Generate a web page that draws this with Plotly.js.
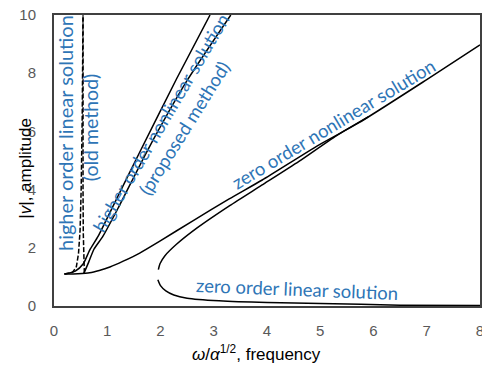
<!DOCTYPE html>
<html>
<head>
<meta charset="utf-8">
<script src="https://cdn.plot.ly/plotly-3.0.1.min.js"></script>
<style>
html,body{margin:0;padding:0;background:#fff;}
#chart{width:482px;height:367px;}
</style>
</head>
<body>
<div id="chart"></div>
<script>
// ---- data ----
// zero order nonlinear solution: upper (stable) branch
const zeroNonUpperX = [0.19, 0.45, 0.67, 0.85, 1.05, 1.3, 1.61, 1.98, 2.6, 3.29, 3.91, 4.97, 5.72, 7.0, 8.0];
const zeroNonUpperY = [1.10, 1.11, 1.14, 1.22, 1.34, 1.54, 1.82, 2.22, 2.92, 3.68, 4.33, 5.53, 6.29, 7.78, 8.97];
// zero order nonlinear solution: middle branch from the turning point
const zeroNonMidX = [1.96, 1.99, 2.08, 2.3, 2.7, 3.3, 3.9, 4.6, 5.3, 5.9];
const zeroNonMidY = [1.25, 1.45, 1.72, 2.12, 2.7, 3.45, 4.15, 4.97, 5.85, 6.5];
// zero order linear solution (lower branch)
const zeroLinX = [1.95, 2.0, 2.1, 2.25, 2.5, 3.1, 4.0, 5.0, 6.5, 8.0];
const zeroLinY = [0.9, 0.7, 0.52, 0.38, 0.27, 0.18, 0.12, 0.09, 0.03, 0.015];
// higher order nonlinear solution (proposed method): two branches
const hiNonAX = [0.2, 0.4, 0.55, 0.67, 0.83, 1.1, 1.63, 2.3, 2.93];
const hiNonAY = [1.1, 1.2, 1.45, 1.92, 2.4, 3.4, 5.36, 7.8, 10];
const hiNonBX = [0.56, 0.65, 0.75, 0.92, 1.2, 1.76, 2.5, 3.32];
const hiNonBY = [1.12, 1.5, 1.95, 2.4, 3.35, 5.36, 7.75, 10];
// higher order linear solution (old method): two dashed branches
const hiLinAX = [0.2, 0.35, 0.42, 0.46, 0.49, 0.51, 0.53, 0.545];
const hiLinAY = [1.1, 1.16, 1.35, 1.8, 2.6, 4.0, 6.5, 10];
const hiLinBX = [0.57, 0.56, 0.55, 0.545, 0.54, 0.545];
const hiLinBY = [1.13, 1.6, 2.5, 4.0, 6.5, 10];

const xTicks = [0, 1, 2, 3, 4, 5, 6, 7, 8];
const yTicks = [0, 2, 4, 6, 8, 10];

const labelTexts = [
  'higher order linear solution',
  '(old method)',
  'higher order nonlinear solution',
  '(proposed method)',
  'zero order nonlinear solution',
  'zero order linear solution'
];

// ---- drawing ----
const solid = {color: '#000', width: 1.5, shape: 'spline', smoothing: 0.6};
const dashed = {color: '#000', width: 1.5, dash: '5px,2px'};
function tr(x, y, line) {
  return {x: x, y: y, type: 'scatter', mode: 'lines', line: line, hoverinfo: 'skip', showlegend: false};
}
const traces = [
  tr(zeroNonUpperX, zeroNonUpperY, solid),
  tr(zeroNonMidX, zeroNonMidY, solid),
  tr(zeroLinX, zeroLinY, solid),
  tr(hiNonAX, hiNonAY, solid),
  tr(hiNonBX, hiNonBY, solid),
  tr(hiLinAX, hiLinAY, dashed),
  tr(hiLinBX, hiLinBY, dashed)
];

const blue = '#2E75B6';
const lblFam = 'Lato, "Open Sans", sans-serif';
const lblPos = [
  {x: 0.21, y: 5.95, a: -90, s: 20},
  {x: 0.68, y: 6.15, a: -90, s: 19.5},
  {x: 2.0, y: 6.3, a: -59.5, s: 18.5},
  {x: 2.45, y: 6.1, a: -58, s: 18.5},
  {x: 5.25, y: 6.25, a: -31, s: 18.5},
  {x: 4.56, y: 0.58, a: 2.3, s: 18.5}
];
const annotations = labelTexts.map((t, i) => ({
  text: t, x: lblPos[i].x, y: lblPos[i].y, xref: 'x', yref: 'y',
  textangle: lblPos[i].a, showarrow: false,
  font: {family: lblFam, size: lblPos[i].s, color: blue},
  xanchor: 'center', yanchor: 'middle'
}));
const titleFont = {family: '"Liberation Sans", Arial, sans-serif', size: 17, color: '#000'};
annotations.push({
  text: '<i>ω</i>/<i>α</i><sup>1/2</sup>, frequency', xref: 'x', yref: 'paper',
  x: 3.81, y: -0.162, showarrow: false, font: titleFont, xanchor: 'center', yanchor: 'middle'
});
annotations.push({
  text: '|<i>v</i>|, amplitude', xref: 'paper', yref: 'y',
  x: -0.066, y: 4.75, textangle: -90, showarrow: false, font: titleFont, xanchor: 'center', yanchor: 'middle'
});

const axisCommon = {
  showgrid: false, zeroline: false, showline: true, mirror: true,
  linecolor: '#404040', linewidth: 2, ticks: '',
  tickfont: {family: '"Liberation Sans", Arial, sans-serif', size: 15, color: '#595959'},
  ticklabeloverflow: 'allow',
  fixedrange: true
};
const layout = {
  width: 482, height: 367,
  margin: {l: 54, r: 2, t: 15, b: 61},
  paper_bgcolor: '#fff', plot_bgcolor: '#fff',
  showlegend: false,
  xaxis: Object.assign({}, axisCommon, {range: [0, 8], tickvals: xTicks, ticktext: xTicks.map(String), ticklabelstandoff: 10}),
  yaxis: Object.assign({}, axisCommon, {range: [0, 10], tickvals: yTicks, ticktext: yTicks.map(String), ticklabelstandoff: 13}),
  annotations: annotations
};
Plotly.newPlot('chart', traces, layout, {staticPlot: true, displayModeBar: false});
</script>
</body>
</html>
